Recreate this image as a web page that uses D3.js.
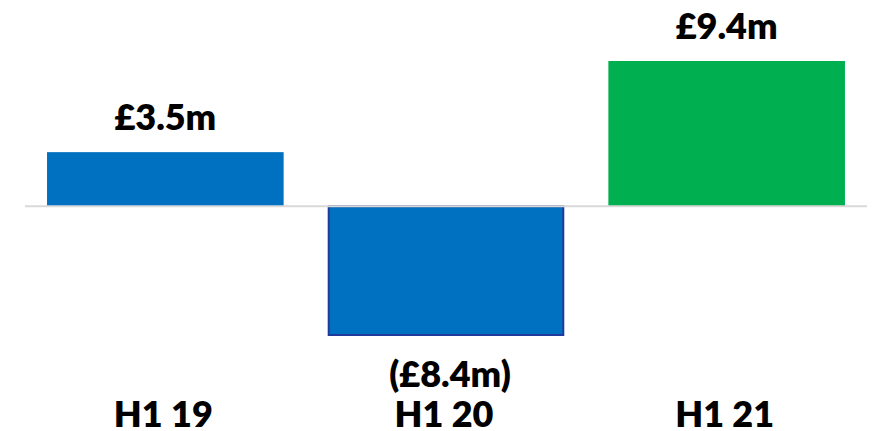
<!DOCTYPE html>
<html>
<head>
<meta charset="utf-8">
<script src="https://cdn.jsdelivr.net/npm/d3@7"></script>
<style>
  html, body { margin: 0; padding: 0; background: #fff; }
  svg { display: block; }
  text { font-family: Lato, "Open Sans", sans-serif; font-weight: 800; fill: #000; }
</style>
</head>
<body>
<svg id="chart" width="874" height="431"></svg>
<script>
const categories = ["H1 19", "H1 20", "H1 21"];
const values = [3.5, -8.4, 9.4];
const valueLabels = ["£3.5m", "(£8.4m)", "£9.4m"];
const barColors = ["#0070C0", "#0070C0", "#00B050"];
const barStrokes = ["none", "#1F3A9A", "none"];

const svg = d3.select("#chart");

const x = d3.scaleBand()
  .domain(categories)
  .range([25, 867])
  .paddingInner(0.157)
  .paddingOuter(0.0785);

const y = d3.scaleLinear()
  .domain([-8.4, 9.4])
  .range([336, 61]);

const data = categories.map((c, i) => ({
  cat: c, v: values[i], label: valueLabels[i], color: barColors[i], stroke: barStrokes[i]
}));

// bars
svg.selectAll("rect.bar")
  .data(data)
  .join("rect")
  .attr("class", "bar")
  .attr("x", d => x(d.cat) + (d.stroke !== "none" ? 1 : 0))
  .attr("width", d => x.bandwidth() - (d.stroke !== "none" ? 2 : 0))
  .attr("y", d => Math.min(y(d.v), y(0)))
  .attr("height", d => Math.abs(y(d.v) - y(0)) - (d.stroke !== "none" ? 1 : 0))
  .attr("fill", d => d.color)
  .attr("stroke", d => d.stroke)
  .attr("stroke-width", 2);

// zero line
svg.append("line")
  .attr("x1", x.range()[0])
  .attr("x2", x.range()[1])
  .attr("y1", y(0))
  .attr("y2", y(0))
  .attr("stroke", "#D9D9D9")
  .attr("stroke-width", 2);

// value labels
svg.selectAll("text.val")
  .data(data)
  .join("text")
  .attr("class", "val")
  .attr("x", d => x(d.cat) + x.bandwidth() / 2 + (d.v < 0 ? 4 : 0))
  .attr("y", d => d.v >= 0 ? y(d.v) - 22 : y(d.v) + 51)
  .attr("text-anchor", "middle")
  .style("font-size", "36px")
  .text(d => d.label);

// category axis labels
const xAxis = d3.axisBottom(x).tickSize(0).tickPadding(0);
const gx = svg.append("g")
  .attr("transform", "translate(0,427)")
  .call(xAxis);
gx.select(".domain").remove();
gx.selectAll("text")
  .attr("dy", 0)
  .attr("y", 0)
  .attr("fill", "#000")
  .style("font-family", "Lato, 'Open Sans', sans-serif")
  .style("font-weight", 800)
  .style("font-size", "36px");
gx.selectAll(".tick").attr("transform", d => `translate(${x(d) + x.bandwidth() / 2 - 2},0)`);
</script>
</body>
</html>
